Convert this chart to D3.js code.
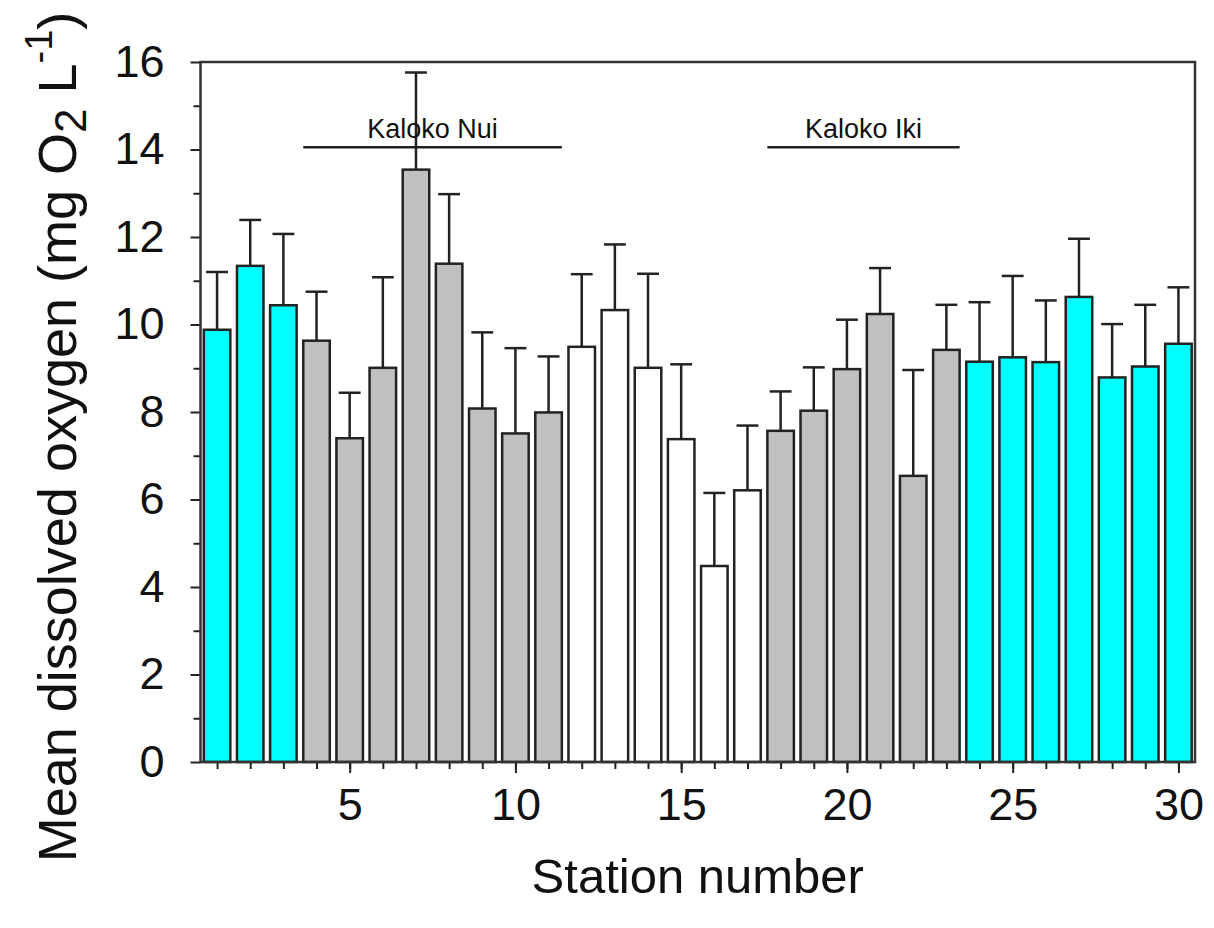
<!DOCTYPE html>
<html lang="en">
  <head>
    <meta charset="UTF-8">
    <title>Mean dissolved oxygen by station</title>
    <script src="https://d3js.org/d3.v7.min.js"></script>
    <style>
      * {
        margin: 0;
        padding: 0;
      }
      body {
        background: #fff;
      }
      body > svg {
        display: block;
      }
      text {
        font-family: "Liberation Sans", Arial, sans-serif;
        fill: #111;
      }
    </style>
  </head>
  <body>
    <script>
      // station data
      var stations = d3.range(1, 31);
      var meanDO = [9.88, 11.34, 10.44, 9.63, 7.40, 9.01, 13.54, 11.39, 8.08, 7.51,
                    7.99, 9.49, 10.33, 9.01, 7.38, 4.48, 6.21, 7.57, 8.03, 8.98,
                    10.24, 6.54, 9.42, 9.15, 9.25, 9.14, 10.63, 8.79, 9.04, 9.56];
      var upperSD = [11.20, 12.39, 12.07, 10.75, 8.44, 11.08, 15.76, 12.98, 9.82, 9.46,
                     9.27, 11.15, 11.83, 11.16, 9.09, 6.15, 7.69, 8.47, 9.02, 10.11,
                     11.29, 8.96, 10.45, 10.51, 11.11, 10.55, 11.96, 10.01, 10.45, 10.85];
      // c = coastal (cyan), p = pond (gray), w = white
      var stationGroup = ["c", "c", "c", "p", "p", "p", "p", "p", "p", "p",
                          "p", "w", "w", "w", "w", "w", "w", "p", "p", "p",
                          "p", "p", "p", "c", "c", "c", "c", "c", "c", "c"];
      var groupFill = { c: "#00ffff", p: "#c0c0c0", w: "#ffffff" };
      var yTicks = [0, 2, 4, 6, 8, 10, 12, 14, 16];
      var xTicks = [5, 10, 15, 20, 25, 30];
      var ponds = [
        { name: "Kaloko Nui", from: 4, to: 11, level: 14.05 },
        { name: "Kaloko Iki", from: 18, to: 23, level: 14.05 }
      ];

      var width = 1214;
      var height = 928;
      var margin = { left: 200.5, right: 19, top: 62, bottom: 166 };

      var svg = d3.select("body").append("svg")
        .attr("width", width)
        .attr("height", height);

      var x = d3.scaleLinear()
        .domain([0.5, 30.5])
        .range([margin.left, width - margin.right]);
      var y = d3.scaleLinear()
        .domain([0, 16])
        .range([height - margin.bottom, margin.top]);

      var data = stations.map(function (s, i) {
        return { station: s, mean: meanDO[i], upper: upperSD[i], group: stationGroup[i] };
      });

      var halfBar = 0.4;
      var halfCap = 0.33;

      // error bars (drawn first so bars cover the stem below the top)
      var err = svg.append("g")
        .attr("stroke", "#222")
        .attr("stroke-width", 2.5);
      err.selectAll(".stem")
        .data(data)
        .enter().append("line")
        .attr("x1", function (d) { return x(d.station); })
        .attr("x2", function (d) { return x(d.station); })
        .attr("y1", function (d) { return y(d.mean); })
        .attr("y2", function (d) { return y(d.upper); });
      err.selectAll(".cap")
        .data(data)
        .enter().append("line")
        .attr("x1", function (d) { return x(d.station - halfCap); })
        .attr("x2", function (d) { return x(d.station + halfCap); })
        .attr("y1", function (d) { return y(d.upper); })
        .attr("y2", function (d) { return y(d.upper); });

      svg.append("g").selectAll("rect")
        .data(data)
        .enter().append("rect")
        .attr("x", function (d) { return x(d.station - halfBar); })
        .attr("width", function (d) { return x(d.station + halfBar) - x(d.station - halfBar); })
        .attr("y", function (d) { return y(d.mean); })
        .attr("height", function (d) { return y(0) - y(d.mean); })
        .attr("fill", function (d) { return groupFill[d.group]; })
        .attr("stroke", "#222")
        .attr("stroke-width", 2.5);

      // pond brackets
      var pond = svg.append("g").selectAll("g")
        .data(ponds)
        .enter().append("g");
      pond.append("line")
        .attr("x1", function (d) { return x(d.from - halfBar); })
        .attr("x2", function (d) { return x(d.to + halfBar); })
        .attr("y1", function (d) { return y(d.level); })
        .attr("y2", function (d) { return y(d.level); })
        .attr("stroke", "#222")
        .attr("stroke-width", 2.5);
      pond.append("text")
        .attr("x", function (d) { return (x(d.from - halfBar) + x(d.to + halfBar)) / 2; })
        .attr("y", function (d) { return y(d.level) - 9.5; })
        .attr("text-anchor", "middle")
        .attr("font-size", "27px")
        .text(function (d) { return d.name; });

      // axes
      svg.append("g")
        .attr("transform", "translate(" + margin.left + ",0)")
        .call(d3.axisLeft(y).tickValues(yTicks).tickSize(10).tickPadding(26));
      svg.append("g")
        .attr("transform", "translate(" + margin.left + ",0)")
        .call(d3.axisLeft(y).tickValues(d3.range(1, 16, 2)).tickSize(7).tickFormat(""));
      svg.append("g")
        .attr("transform", "translate(0," + y(0) + ")")
        .call(d3.axisBottom(x).tickValues(xTicks).tickSize(11).tickPadding(15));
      svg.append("g")
        .attr("transform", "translate(0," + y(0) + ")")
        .call(d3.axisBottom(x).tickValues(stations).tickSize(7).tickFormat(""));

      svg.selectAll(".domain").remove();
      svg.selectAll(".tick line")
        .attr("stroke", "#222")
        .attr("stroke-width", 2);
      svg.selectAll(".tick text")
        .attr("font-family", "'Liberation Sans', Arial, sans-serif")
        .attr("font-size", "45px")
        .attr("fill", "#111");

      // frame
      svg.append("rect")
        .attr("x", x(0.5))
        .attr("y", y(16))
        .attr("width", x(30.5) - x(0.5))
        .attr("height", y(0) - y(16))
        .attr("fill", "none")
        .attr("stroke", "#333")
        .attr("stroke-width", 2.5);

      // axis titles
      svg.append("text")
        .attr("x", (x(0.5) + x(30.5)) / 2)
        .attr("y", 893)
        .attr("text-anchor", "middle")
        .attr("font-size", "49px")
        .text("Station number");

      var yt = svg.append("text")
        .attr("transform", "translate(76,437) rotate(-90)")
        .attr("text-anchor", "middle")
        .attr("font-size", "54px");
      yt.append("tspan").text("Mean dissolved oxygen (mg O");
      yt.append("tspan").attr("font-size", "44px").attr("dy", 10).text("2");
      yt.append("tspan").attr("dy", -10).text(" L");
      yt.append("tspan").attr("font-size", "38px").attr("dy", -24).text("-1");
      yt.append("tspan").attr("dy", 24).text(")");
    </script>
  </body>
</html>
